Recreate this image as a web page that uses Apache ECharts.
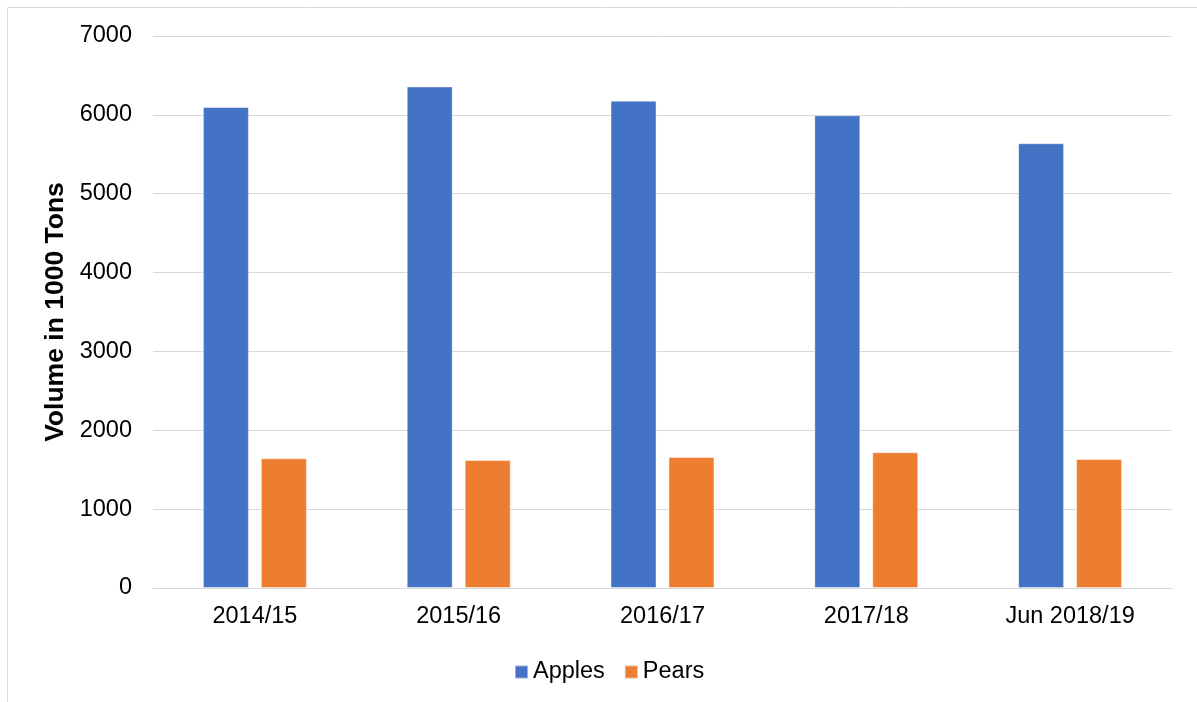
<!DOCTYPE html>
<html>
<head>
<meta charset="utf-8">
<style>
  html, body { margin: 0; padding: 0; background: #fff; }
  #chart { width: 1197px; height: 702px; }
</style>
<script src="https://cdn.jsdelivr.net/npm/echarts@6/dist/echarts.min.js"></script>
</head>
<body>
<div id="chart"></div>
<script>
// 数据
const categories = ['2014/15', '2015/16', '2016/17', '2017/18', 'Jun 2018/19']
const apples = [6100, 6360, 6180, 5995, 5640]
const pears = [1645, 1622, 1662, 1722, 1635]
const yTicks = [0, 1000, 2000, 3000, 4000, 5000, 6000, 7000]

const font = 'Liberation Sans, Arial, sans-serif'
const chart = echarts.init(document.getElementById('chart'))

const options = {
  animation: false,
  textStyle: { fontFamily: font },
  color: ['#4472C4', '#ED7D31'],
  // 外框
  graphic: [
    {
      type: 'rect',
      shape: { x: 7.5, y: 7.5, width: 1300, height: 800 },
      style: { fill: 'none', stroke: '#d9d9d9', lineWidth: 1 },
      silent: true
    }
  ],
  legend: {
    left: 509,
    top: 655,
    icon: 'rect',
    itemWidth: 13,
    itemHeight: 13,
    itemGap: 19,
    textStyle: { fontFamily: font, fontSize: 23.5, color: '#000' },
    data: ['Apples', 'Pears']
  },
  grid: {
    left: 153,
    right: 25,
    top: 36,
    bottom: 114
  },
  xAxis: {
    type: 'category',
    data: categories,
    axisLine: { lineStyle: { color: '#d9d9d9', width: 1 } },
    axisTick: { show: false },
    axisLabel: { color: '#000', fontSize: 23.5, fontFamily: font, margin: 17 }
  },
  yAxis: {
    type: 'value',
    min: yTicks[0],
    max: yTicks[yTicks.length - 1],
    interval: 1000,
    name: 'Volume in 1000 Tons',
    nameLocation: 'middle',
    nameGap: 68,
    nameTextStyle: { color: '#000', fontSize: 26.5, fontWeight: 'bold', fontFamily: font },
    axisLine: { show: false },
    axisTick: { show: false },
    axisLabel: {
      color: '#000',
      fontSize: 23.5,
      fontFamily: font,
      margin: 21,
      formatter: (v) => String(v)
    },
    splitLine: { lineStyle: { color: '#d9d9d9', width: 1 } }
  },
  series: [
    {
      name: 'Apples',
      type: 'bar',
      data: apples,
      barWidth: 46,
      barGap: '26%',
      itemStyle: { borderColor: 'rgba(255,255,255,0.45)', borderWidth: 1 }
    },
    {
      name: 'Pears',
      type: 'bar',
      data: pears,
      barWidth: 46,
      itemStyle: { borderColor: 'rgba(255,255,255,0.45)', borderWidth: 1 }
    }
  ]
}
chart.setOption(options)
</script>
</body>
</html>
